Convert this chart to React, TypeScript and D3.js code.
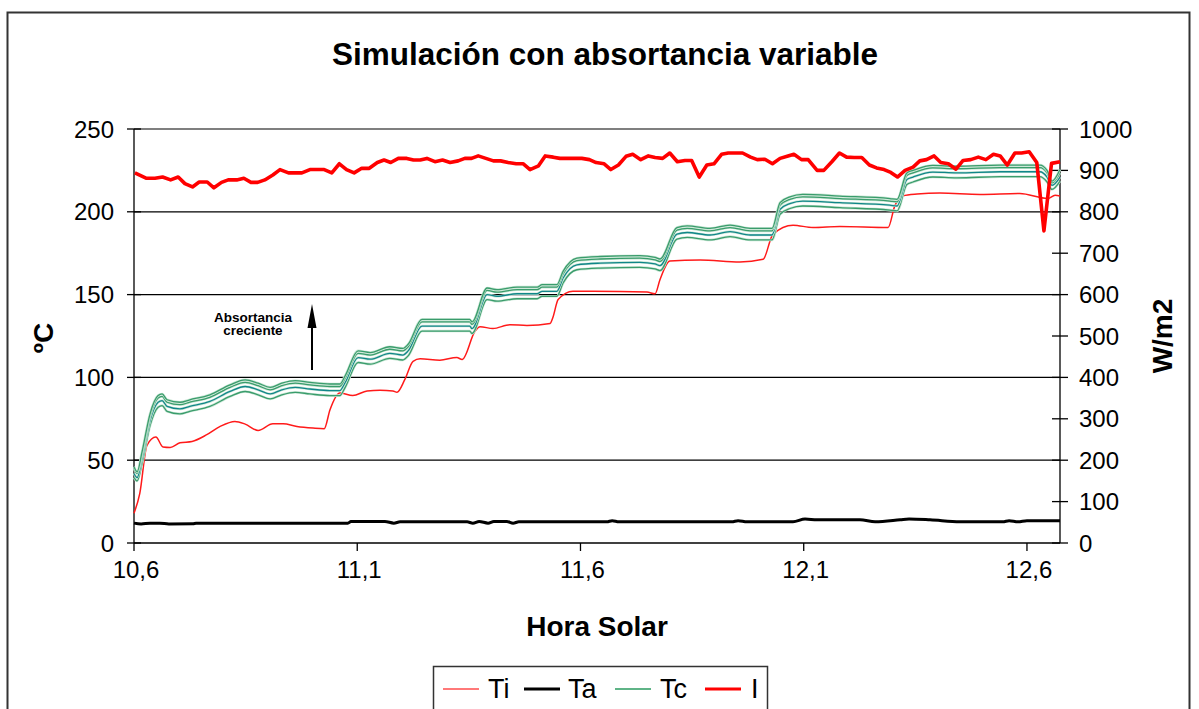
import React, { useEffect, useRef } from 'react'
import * as d3 from 'd3'

// Ti (interior temperature, ºC)
const tiHours = [10.6, 10.613, 10.629, 10.649, 10.665, 10.681, 10.703, 10.73, 10.763, 10.793, 10.826, 10.849, 10.878, 10.911, 10.934, 10.965, 11.001, 11.026, 11.039, 11.061, 11.09, 11.122, 11.151, 11.18, 11.189, 11.207, 11.225, 11.241, 11.285, 11.323, 11.335, 11.364, 11.375, 11.404, 11.442, 11.48, 11.532, 11.538, 11.55, 11.583, 11.628, 11.749, 11.767, 11.778, 11.8, 11.868, 11.957, 12.009, 12.031, 12.076, 12.121, 12.181, 12.289, 12.304, 12.322, 12.354, 12.405, 12.495, 12.584, 12.647, 12.663, 12.674]
const tiValues = [18, 30, 59, 64, 58, 57.7, 60.5, 61.3, 65.4, 70.4, 73.4, 71.8, 68, 72, 72, 70.4, 69.4, 69, 80.5, 90.6, 89, 91.8, 92.2, 91.8, 91, 99, 109.7, 111.2, 110.4, 112, 110.8, 128, 130.6, 129.5, 131.8, 131.4, 132.6, 136, 147, 152, 152, 151.5, 150.5, 159, 170.3, 170.9, 169.7, 171.3, 186.4, 191.9, 190.5, 191.1, 190.5, 203.6, 209.6, 210.7, 211.3, 210.5, 211, 208, 210, 209.6]

// Ta (ambient temperature, ºC)
const taHours = [10.6, 10.616, 10.636, 10.658, 10.678, 10.732, 10.739, 11.079, 11.086, 11.162, 11.182, 11.196, 11.346, 11.359, 11.373, 11.393, 11.406, 11.435, 11.449, 11.462, 11.659, 11.671, 11.686, 11.939, 11.953, 11.973, 12.076, 12.103, 12.13, 12.226, 12.26, 12.316, 12.336, 12.383, 12.45, 12.546, 12.56, 12.58, 12.6, 12.674]
const taValues = [12, 11.5, 12, 12, 11.5, 11.6, 12, 12, 13, 13, 12, 12.8, 12.8, 12, 13, 12, 13, 13, 12, 12.8, 12.8, 13.5, 12.8, 12.8, 13.5, 12.8, 12.8, 14.5, 14, 14, 12.8, 14, 14.5, 14, 12.8, 12.8, 13.5, 12.8, 13.5, 13.5]

// Tc (collector temperature, ºC) for four absorptance values
const tcHours = [10.6, 10.607, 10.618, 10.636, 10.654, 10.663, 10.674, 10.703, 10.725, 10.77, 10.815, 10.849, 10.878, 10.905, 10.931, 10.961, 10.994, 11.039, 11.061, 11.073, 11.102, 11.129, 11.173, 11.202, 11.214, 11.245, 11.285, 11.352, 11.357, 11.391, 11.413, 11.458, 11.503, 11.514, 11.547, 11.561, 11.592, 11.644, 11.733, 11.767, 11.778, 11.816, 11.839, 11.89, 11.935, 11.98, 12.029, 12.047, 12.069, 12.098, 12.181, 12.293, 12.309, 12.331, 12.345, 12.389, 12.443, 12.54, 12.629, 12.645, 12.656, 12.674]
const tc1 = [46, 43, 55, 78, 89, 90, 86.5, 85, 86.5, 89.5, 95.5, 98.5, 96.5, 94, 96.5, 98, 97, 96, 96, 101, 116, 115, 118.5, 117.5, 120, 135, 135, 135, 133.5, 154, 153, 154.5, 154.5, 156, 156, 164, 172, 173, 173.5, 172.5, 171.5, 190.5, 191.5, 190, 192, 190, 190, 205.5, 209, 210.5, 209.5, 208, 207.5, 223.5, 225, 228, 227.5, 228.2, 228.2, 225, 218.5, 225.5]
const tc2 = [45, 42, 53.5, 76.5, 87.5, 88.5, 85, 83.5, 85, 88, 94, 97, 95, 92.5, 95, 96.5, 95.5, 94.5, 94.5, 99.5, 114.5, 113.5, 117, 116, 118.5, 133.5, 133.5, 133.5, 132, 152.5, 151.5, 153, 153, 154.5, 154.5, 162.5, 170.5, 171.5, 172, 171, 170, 189, 190, 188.5, 190.5, 188.5, 188.5, 204, 207.5, 209, 208, 206.5, 206, 222, 223.5, 226.5, 226, 226.7, 226.7, 223.5, 217.5, 223.5]
const tc3 = [42, 39.5, 51, 74, 85, 86, 82.5, 81, 82.5, 85.5, 91.5, 94.5, 92.5, 90, 92.5, 94, 93, 92, 92, 97, 112, 111, 114.5, 113.5, 116, 131, 131, 131, 129.5, 150, 149, 150.5, 150.5, 152, 152, 160, 168, 169, 169.5, 168.5, 167.5, 186.5, 187.5, 186, 188, 186, 186, 201.5, 205, 206.5, 205.5, 204, 203.5, 219.5, 221, 224, 223.5, 224.2, 224.2, 221, 216, 221]
const tc4 = [39.5, 37.5, 48, 71, 82, 83, 79.5, 78, 79.5, 82.5, 88.5, 91.5, 89.5, 87, 89.5, 91, 90, 89, 89, 94, 109, 108, 111.5, 110.5, 113, 128, 128, 128, 126.5, 147, 146, 147.5, 147.5, 149, 149, 157, 165, 166, 166.5, 165.5, 164.5, 183.5, 184.5, 183, 185, 183, 183, 198.5, 202, 203.5, 202.5, 201, 200.5, 216.5, 218, 221, 220.5, 221.2, 221.2, 218, 213.5, 218.5]

// I (irradiance, W/m2, right axis)
const iHours = [10.602, 10.628, 10.647, 10.664, 10.682, 10.699, 10.714, 10.731, 10.746, 10.764, 10.779, 10.796, 10.811, 10.83, 10.846, 10.862, 10.877, 10.893, 10.911, 10.927, 10.946, 10.976, 10.994, 11.026, 11.043, 11.06, 11.076, 11.093, 11.11, 11.127, 11.145, 11.16, 11.175, 11.192, 11.211, 11.226, 11.241, 11.256, 11.274, 11.291, 11.308, 11.326, 11.341, 11.356, 11.371, 11.388, 11.405, 11.421, 11.438, 11.456, 11.472, 11.487, 11.506, 11.521, 11.539, 11.554, 11.573, 11.603, 11.62, 11.635, 11.653, 11.668, 11.685, 11.702, 11.717, 11.735, 11.752, 11.767, 11.784, 11.8, 11.817, 11.834, 11.849, 11.866, 11.883, 11.899, 11.916, 11.931, 11.963, 11.981, 11.996, 12.013, 12.03, 12.047, 12.063, 12.078, 12.095, 12.11, 12.13, 12.145, 12.163, 12.18, 12.196, 12.213, 12.23, 12.247, 12.263, 12.28, 12.295, 12.31, 12.327, 12.345, 12.36, 12.375, 12.392, 12.407, 12.424, 12.441, 12.457, 12.474, 12.491, 12.508, 12.525, 12.54, 12.556, 12.573, 12.588, 12.605, 12.622, 12.638, 12.655, 12.674]
const iValues = [894, 881, 881, 884, 877, 884, 868, 860, 872, 872, 858, 871, 877, 877, 881, 871, 871, 877, 889, 902, 894, 894, 902, 902, 894, 916, 902, 894, 905, 905, 919, 925, 919, 929, 929, 925, 925, 929, 921, 925, 919, 923, 929, 929, 935, 929, 923, 923, 919, 916, 916, 902, 911, 935, 932, 929, 929, 929, 926, 919, 916, 902, 913, 934, 939, 926, 935, 931, 929, 942, 921, 924, 924, 884, 913, 916, 939, 942, 942, 932, 926, 927, 916, 929, 934, 939, 926, 926, 900, 900, 921, 942, 932, 931, 931, 913, 906, 902, 895, 884, 900, 908, 923, 926, 935, 919, 916, 903, 924, 926, 932, 926, 939, 935, 913, 942, 942, 945, 919, 754, 917, 921]

const leftTicks = [0, 50, 100, 150, 200, 250]
const rightTicks = [0, 100, 200, 300, 400, 500, 600, 700, 800, 900, 1000]
const xTicks = [10.6, 11.1, 11.6, 12.1, 12.6]
const xTickLabels = ['10,6', '11,1', '11,6', '12,1', '12,6']

const FONT = '"Liberation Sans", Arial, Helvetica, sans-serif'

const zip = (xs: number[], ys: number[]) => xs.map((x, i) => [x, ys[i]] as [number, number])

export default function App() {
  const ref = useRef<SVGSVGElement>(null)

  useEffect(() => {
    const svg = d3.select(ref.current)
    svg.selectAll('*').remove()

    const left = 134
    const right = 1060
    const top = 129
    const bottom = 543

    const x = d3.scaleLinear().domain([10.6, 12.674]).range([left, right])
    const yL = d3.scaleLinear().domain([0, 250]).range([bottom, top])
    const yR = d3.scaleLinear().domain([0, 1000]).range([bottom, top])

    // chart border
    svg.append('rect')
      .attr('x', 7.5).attr('y', 12.5).attr('width', 1182).attr('height', 740)
      .attr('fill', 'white').attr('stroke', '#333').attr('stroke-width', 2)

    // title
    svg.append('text')
      .attr('x', 605).attr('y', 65)
      .attr('text-anchor', 'middle')
      .attr('font-family', FONT).attr('font-weight', 'bold').attr('font-size', 31.5)
      .text('Simulación con absortancia variable')

    // gridlines
    svg.append('g').selectAll('line')
      .data(leftTicks.filter(d => d > 0))
      .enter().append('line')
      .attr('x1', left).attr('x2', right)
      .attr('y1', d => yL(d)).attr('y2', d => yL(d))
      .attr('stroke', '#000').attr('stroke-width', 1.2)

    // axes lines
    const axes = svg.append('g').attr('stroke', '#000').attr('stroke-width', 1.3)
    axes.append('line').attr('x1', left).attr('x2', left).attr('y1', top).attr('y2', bottom)
    axes.append('line').attr('x1', right).attr('x2', right).attr('y1', top).attr('y2', bottom)
    axes.append('line').attr('x1', left).attr('x2', right).attr('y1', bottom).attr('y2', bottom)

    // left ticks
    axes.selectAll('.lt').data(leftTicks).enter().append('line')
      .attr('x1', left - 7).attr('x2', left + 7)
      .attr('y1', d => yL(d)).attr('y2', d => yL(d))
    svg.append('g').selectAll('text').data(leftTicks).enter().append('text')
      .attr('x', 114).attr('y', d => yL(d) + 8.5)
      .attr('text-anchor', 'end')
      .attr('font-family', FONT).attr('font-size', 24)
      .text(d => d)

    // right ticks
    axes.selectAll('.rt').data(rightTicks).enter().append('line')
      .attr('x1', right - 8).attr('x2', right + 8)
      .attr('y1', d => yR(d)).attr('y2', d => yR(d))
    svg.append('g').selectAll('text').data(rightTicks).enter().append('text')
      .attr('x', 1079).attr('y', d => yR(d) + 8.5)
      .attr('text-anchor', 'start')
      .attr('font-family', FONT).attr('font-size', 24)
      .text(d => d)

    // x ticks
    axes.selectAll('.xt').data(xTicks).enter().append('line')
      .attr('x1', d => x(d)).attr('x2', d => x(d))
      .attr('y1', bottom).attr('y2', bottom + 8)
    svg.append('g').selectAll('text').data(xTicks).enter().append('text')
      .attr('x', d => x(d) + 2).attr('y', 578)
      .attr('text-anchor', 'middle')
      .attr('font-family', FONT).attr('font-size', 24)
      .text((d, i) => xTickLabels[i])

    // axis titles
    svg.append('text')
      .attr('x', 597).attr('y', 636)
      .attr('text-anchor', 'middle')
      .attr('font-family', FONT).attr('font-weight', 'bold').attr('font-size', 28)
      .text('Hora Solar')
    svg.append('text')
      .attr('transform', 'translate(53, 338) rotate(-90)')
      .attr('text-anchor', 'middle')
      .attr('font-family', FONT).attr('font-weight', 'bold').attr('font-size', 28)
      .text('ºC')
    svg.append('text')
      .attr('transform', 'translate(1172, 336) rotate(-90)')
      .attr('text-anchor', 'middle')
      .attr('font-family', FONT).attr('font-weight', 'bold').attr('font-size', 28)
      .text('W/m2')

    const lineL = d3.line<[number, number]>()
      .x(d => x(d[0])).y(d => yL(d[1]))
      .curve(d3.curveMonotoneX)
    const lineR = d3.line<[number, number]>()
      .x(d => x(d[0])).y(d => yR(d[1]))

    const plot = svg.append('g').attr('fill', 'none').attr('stroke-linejoin', 'round')

    // Ti
    plot.append('path')
      .attr('d', lineL(zip(tiHours, tiValues)))
      .attr('stroke', '#ff1a1a').attr('stroke-width', 1.5)

    // Ta
    plot.append('path')
      .attr('d', lineL(zip(taHours, taValues)))
      .attr('stroke', '#000').attr('stroke-width', 3)

    // Tc
    const tcSeries = [
      { values: tc4, color: '#3a9c6c' },
      { values: tc3, color: '#10868a' },
      { values: tc2, color: '#3a9c6c' },
      { values: tc1, color: '#3a9c6c' }
    ]
    tcSeries.forEach(s => {
      plot.append('path')
        .attr('d', lineL(zip(tcHours, s.values)))
        .attr('stroke', '#c8e6d4').attr('stroke-width', 2.6)
      plot.append('path')
        .attr('d', lineL(zip(tcHours, s.values)))
        .attr('stroke', s.color).attr('stroke-width', 1.3)
    })

    // I
    plot.append('path')
      .attr('d', lineR(zip(iHours, iValues)))
      .attr('stroke', '#ff0000').attr('stroke-width', 3.6)

    // annotation
    const ann = svg.append('g')
      .attr('font-family', FONT).attr('font-weight', 'bold').attr('font-size', 13.5)
      .attr('text-anchor', 'middle')
    ann.append('text').attr('x', 253).attr('y', 322).text('Absortancia')
    ann.append('text').attr('x', 253).attr('y', 335).text('creciente')
    svg.append('line')
      .attr('x1', 312).attr('x2', 312).attr('y1', 370).attr('y2', 322)
      .attr('stroke', '#000').attr('stroke-width', 2)
    svg.append('path')
      .attr('d', 'M312,304 L316.5,328 L307.5,328 Z')
      .attr('fill', '#000')

    // legend
    svg.append('rect')
      .attr('x', 433.5).attr('y', 666.5).attr('width', 334).attr('height', 60)
      .attr('fill', 'white').attr('stroke', '#333').attr('stroke-width', 1.5)
    const legendItems = [
      { label: 'Ti', color: '#ff4d4d', width: 1.6, x1: 443, tx: 488 },
      { label: 'Ta', color: '#000', width: 3, x1: 524, tx: 568 },
      { label: 'Tc', color: '#5fb487', width: 2, x1: 615, tx: 660 },
      { label: 'I', color: '#ff0000', width: 3.2, x1: 705, tx: 751 }
    ]
    const lg = svg.append('g')
    legendItems.forEach(item => {
      lg.append('line')
        .attr('x1', item.x1).attr('x2', item.x1 + 36)
        .attr('y1', 689).attr('y2', 689)
        .attr('stroke', item.color).attr('stroke-width', item.width)
      lg.append('text')
        .attr('x', item.tx).attr('y', 698)
        .attr('font-family', FONT).attr('font-size', 27)
        .text(item.label)
    })
  }, [])

  return (
    <svg
      ref={ref}
      width={1199}
      height={709}
      style={{ position: 'absolute', left: 0, top: 0, background: 'white' }}
    />
  )
}
